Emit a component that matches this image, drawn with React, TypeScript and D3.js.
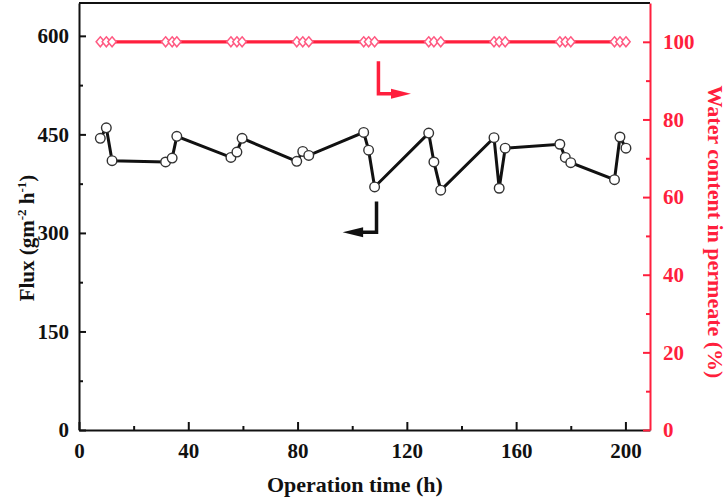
import React, { useEffect, useRef } from 'react';
import * as d3 from 'd3';

// operation time (h) of each flux measurement
const timeH = [
  7.8, 10, 12.1, 31.7, 34.1, 35.8, 55.6, 57.8, 59.7, 79.7, 81.9, 84.1, 104.2, 106, 108.2,
  128, 129.9, 132.4, 151.9, 153.8, 156, 176, 178, 180, 196, 198, 200.2,
];
// flux (g m-2 h-1)
const flux = [
  444, 460, 410, 408, 414, 447, 415, 423, 444, 409, 424, 418, 453, 426, 370,
  452, 408, 365, 445, 368, 429, 435, 415, 407, 381, 446, 429,
];
// water content in permeate (%)
const water = [
  100, 100, 100, 100, 100, 100, 100, 100, 100, 100, 100, 100, 100, 100, 100,
  100, 100, 100, 100, 100, 100, 100, 100, 100, 100, 100, 100,
];

const xTicks = [0, 40, 80, 120, 160, 200];
const fluxTicks = [0, 150, 300, 450, 600];
const waterTicks = [0, 20, 40, 60, 80, 100];

const RED = '#ff1f3d';
const PINK = '#ff5a82';
const FONT = '"Liberation Serif", "Times New Roman", serif';

const App = () => {
  const svgRef = useRef<SVGSVGElement>(null);

  useEffect(() => {
    const svg = d3.select(svgRef.current);
    const width = 728;
    const height = 499;
    const margin = { top: 3, right: 78, bottom: 69, left: 79 };
    const innerWidth = width - margin.left - margin.right;
    const innerHeight = height - margin.top - margin.bottom;

    const x = d3.scaleLinear().domain([0, 209]).range([0, innerWidth]);
    const yL = d3.scaleLinear().domain([0, 650]).range([innerHeight, 0]);
    const yR = d3.scaleLinear().domain([0, 110]).range([innerHeight, 0]);

    const g = svg.append('g').attr('transform', `translate(${margin.left},${margin.top})`);

    // top frame
    g.append('line')
      .attr('x1', 0).attr('x2', innerWidth).attr('y1', 0).attr('y2', 0)
      .attr('stroke', '#111').attr('stroke-width', 2);

    const styleAxis = (sel, color) => {
      sel.select('.domain').attr('stroke', color).attr('stroke-width', 2);
      sel.selectAll('line').attr('stroke', color).attr('stroke-width', 2);
      sel.selectAll('text')
        .attr('fill', color)
        .attr('font-family', FONT)
        .attr('font-weight', 'bold')
        .attr('font-size', 21);
    };

    // minor ticks
    const minor = (axisFn, scale, vals, color) => {
      const a = g.append('g')
        .call(axisFn(scale).tickValues(vals).tickSize(-4).tickFormat(() => ''));
      a.select('.domain').remove();
      a.selectAll('line').attr('stroke', color).attr('stroke-width', 2);
      return a;
    };

    // x axis
    const xa = g.append('g')
      .attr('transform', `translate(0,${innerHeight})`)
      .call(d3.axisBottom(x).tickValues(xTicks).tickSize(-8).tickPadding(13).tickSizeOuter(0));
    styleAxis(xa, '#111');
    minor(d3.axisBottom, x, [20, 60, 100, 140, 180], '#111')
      .attr('transform', `translate(0,${innerHeight})`);

    // left axis
    const la = g.append('g')
      .call(d3.axisLeft(yL).tickValues(fluxTicks).tickSize(-7).tickPadding(10).tickSizeOuter(0));
    styleAxis(la, '#111');
    minor(d3.axisLeft, yL, [75, 225, 375, 525], '#111');

    // right axis
    const ra = g.append('g')
      .attr('transform', `translate(${innerWidth},0)`)
      .call(d3.axisRight(yR).tickValues(waterTicks).tickSize(-7).tickPadding(13).tickSizeOuter(0));
    styleAxis(ra, RED);
    minor(d3.axisRight, yR, [10, 30, 50, 70, 90], RED)
      .attr('transform', `translate(${innerWidth},0)`);

    // axis titles
    svg.append('text')
      .attr('x', margin.left + x(101))
      .attr('y', 492)
      .attr('text-anchor', 'middle')
      .attr('font-family', FONT).attr('font-weight', 'bold').attr('font-size', 22)
      .attr('fill', '#111')
      .text('Operation time (h)');

    const lt = svg.append('text')
      .attr('transform', 'translate(34,238) rotate(-90)')
      .attr('text-anchor', 'middle')
      .attr('font-family', FONT).attr('font-weight', 'bold').attr('font-size', 21)
      .attr('fill', '#111');
    lt.append('tspan').text('Flux (gm');
    lt.append('tspan').attr('dy', -8).attr('font-size', 13).text('-2');
    lt.append('tspan').attr('dy', 8).text(' h');
    lt.append('tspan').attr('dy', -8).attr('font-size', 13).text('-1');
    lt.append('tspan').attr('dy', 8).text(')');

    svg.append('text')
      .attr('transform', 'translate(708,232) rotate(90)')
      .attr('text-anchor', 'middle')
      .attr('font-family', FONT).attr('font-weight', 'bold').attr('font-size', 22)
      .attr('fill', RED)
      .text('Water content in permeate (%)');

    // water content series
    const rows = timeH.map((t, i) => ({ t, f: flux[i], w: water[i] }));
    g.append('path')
      .datum(rows)
      .attr('fill', 'none')
      .attr('stroke', RED)
      .attr('stroke-width', 3.2)
      .attr('d', d3.line<any>().x((d) => x(d.t)).y((d) => yR(d.w)));
    g.selectAll('.dia')
      .data(rows)
      .enter()
      .append('path')
      .attr('class', 'dia')
      .attr('transform', (d) => `translate(${x(d.t)},${yR(d.w)})`)
      .attr('d', 'M0,-5L4.2,0L0,5L-4.2,0Z')
      .attr('fill', '#fff')
      .attr('stroke', PINK)
      .attr('stroke-width', 1.5);

    // flux series
    g.append('path')
      .datum(rows)
      .attr('fill', 'none')
      .attr('stroke', '#111')
      .attr('stroke-width', 3)
      .attr('d', d3.line<any>().x((d) => x(d.t)).y((d) => yL(d.f)));
    g.selectAll('.pt')
      .data(rows)
      .enter()
      .append('circle')
      .attr('class', 'pt')
      .attr('cx', (d) => x(d.t))
      .attr('cy', (d) => yL(d.f))
      .attr('r', 4.8)
      .attr('fill', '#fff')
      .attr('stroke', '#333')
      .attr('stroke-width', 1.4);

    // axis indicator arrows
    const rx = x(109.6);
    const ry = yR(86.6);
    g.append('path')
      .attr('d', `M${rx},${yR(95)}V${ry}H${x(114.6)}`)
      .attr('fill', 'none').attr('stroke', RED).attr('stroke-width', 3.5);
    g.append('path')
      .attr('d', `M${x(114.2)},${ry - 5}L${x(121.5)},${ry}L${x(114.2)},${ry + 5}Z`)
      .attr('fill', RED);

    const bx = x(108.9);
    const by = yL(301);
    g.append('path')
      .attr('d', `M${bx},${yL(348)}V${by}H${x(103.6)}`)
      .attr('fill', 'none').attr('stroke', '#111').attr('stroke-width', 3.5);
    g.append('path')
      .attr('d', `M${x(104)},${by - 5}L${x(96.5)},${by}L${x(104)},${by + 5}Z`)
      .attr('fill', '#111');

    return () => {
      svg.selectAll('*').remove();
    };
  }, []);

  return (
    <svg
      ref={svgRef}
      width={728}
      height={499}
      style={{ position: 'absolute', left: 0, top: 0, background: '#fff' }}
    ></svg>
  );
};

export default App;
